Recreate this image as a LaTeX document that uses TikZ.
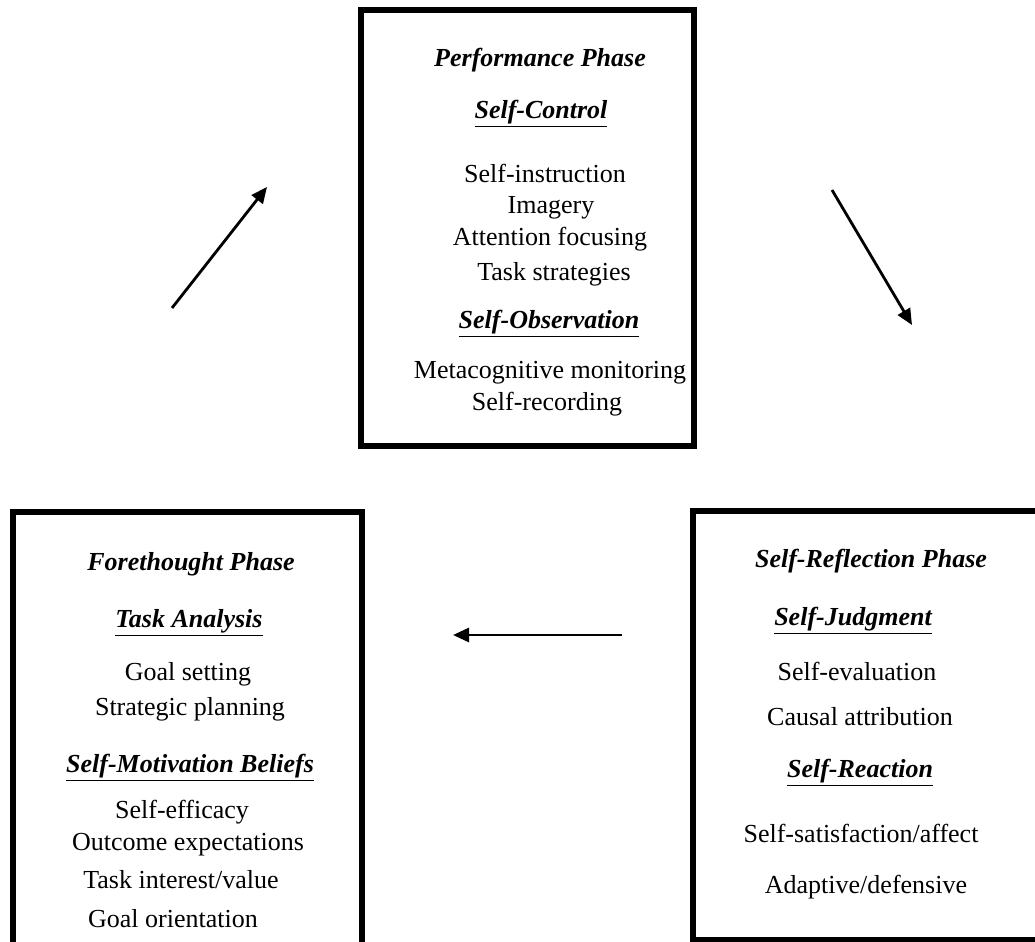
\documentclass[tikz,border=0pt]{standalone}
\usepackage{fontspec}
\setmainfont{Liberation Serif}
\usetikzlibrary{arrows.meta}

\begin{document}
\fontsize{13pt}{15pt}\selectfont
\begin{tikzpicture}[x=0.5pt,y=-0.5pt,
  frame/.style={line width=3pt},
  phase/.style={anchor=base,font=\bfseries\itshape},
  head/.style={anchor=base,font=\bfseries\itshape},
  item/.style={anchor=base},
  flow/.style={line width=1.4pt,-{Triangle[length=8pt,width=7pt]}}]
\clip (0,0) rectangle (1035,942);
% boxes
\draw[frame] (361,10) rectangle (694,446);
\draw[frame] (13,942) -- (13,512) -- (362,512) -- (362,942);
\draw[frame] (1040,511) -- (693,511) -- (693,940) -- (1040,940);
% performance
\node[phase] (perf) at (540,67) {Performance Phase};
\node[head] (sctrl) at (541,118) {\underline{Self-Control}};
\node[item] (sinst) at (545,182) {Self-instruction};
\node[item] (imag) at (551,213) {Imagery};
\node[item] (attn) at (550,245) {Attention focusing};
\node[item] (tstrat) at (554,280) {Task strategies};
\node[head] (sobs) at (549,328) {\underline{Self-Observation}};
\node[item] (meta) at (550,378) {Metacognitive monitoring};
\node[item] (srec) at (547,410) {Self-recording};
% forethought
\node[phase] (fore) at (191,570) {Forethought Phase};
\node[head] (task) at (189,627) {\underline{Task Analysis}};
\node[item] (goal) at (188,680) {Goal setting};
\node[item] (plan) at (190,715) {Strategic planning};
\node[head] (smot) at (190,772) {\underline{Self-Motivation Beliefs}};
\node[item] (seff) at (182,818) {Self-efficacy};
\node[item] (outc) at (188,850) {Outcome expectations};
\node[item] (tint) at (181,888) {Task interest/value};
\node[item] (gori) at (173,927) {Goal orientation};
% self-reflection
\node[phase] (refl) at (871,567) {Self-Reflection Phase};
\node[head] (sjud) at (853,625) {\underline{Self-Judgment}};
\node[item] (seval) at (857,680) {Self-evaluation};
\node[item] (caus) at (860,725) {Causal attribution};
\node[head] (sreac) at (860,777) {\underline{Self-Reaction}};
\node[item] (ssat) at (861,842) {Self-satisfaction/affect};
\node[item] (adap) at (866,893) {Adaptive/defensive};
% cycle arrows
\coordinate (up0) at (172,308);
\coordinate (up1) at (267,187);
\coordinate (dn0) at (832,190);
\coordinate (dn1) at (912,325);
\coordinate (bk0) at (622,635);
\coordinate (bk1) at (453,635);
\draw[flow] (up0) -- (up1);
\draw[flow] (dn0) -- (dn1);
\draw[flow] (bk0) -- (bk1);
\end{tikzpicture}
\end{document}
